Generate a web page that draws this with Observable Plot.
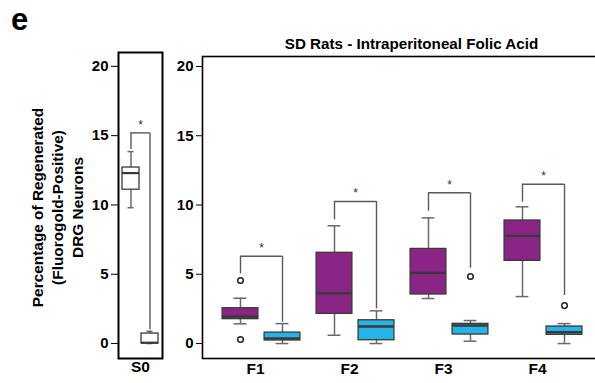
<!DOCTYPE html>
<html><head><meta charset="utf-8">
<script src="https://cdn.jsdelivr.net/npm/d3@7"></script>
<script src="https://cdn.jsdelivr.net/npm/@observablehq/plot@0.6"></script>
<style>
body{margin:0;overflow:hidden;background:#fff;font-family:"Liberation Sans",Arial,sans-serif;}
#wrap{position:relative;width:595px;height:383px;overflow:hidden;}
#left{position:absolute;left:0;top:0;width:170px;}
#right{position:absolute;left:150px;top:0;width:452px;}
#panel{position:absolute;left:11px;top:3px;font-size:31px;font-weight:bold;line-height:1.1;}
svg{overflow:visible;max-width:none !important;}
</style></head>
<body><div id="wrap"><div id="panel">e</div><div id="left"></div><div id="right"></div></div>
<script>
// ---- data ----
const yLabel = "Percentage of Regenerated\n(Fluorogold-Positive)\nDRG Neurons";
const title = "SD Rats - Intraperitoneal Folic Acid";
const yTicks = [0, 5, 10, 15, 20];

// S0 panel (two white boxes)
const s0Keys = ["S0-a", "S0-b"];
const s0Lo  = [9.8, 0.0];
const s0Q1  = [11.1, 0.0];
const s0Med = [12.3, 0.06];
const s0Q3  = [12.7, 0.72];
const s0Hi  = [13.85, 0.88];
const s0BracketTop = [15.2];
const s0BracketLeft = [14.0];
const s0BracketRight = [1.0];

// F panel
const groups = ["F1", "F2", "F3", "F4"];
const faLo  = [1.42, 0.6, 3.25, 3.39];
const faQ1  = [1.76, 2.14, 3.54, 5.97];
const faMed = [1.95, 3.63, 5.1, 7.77];
const faQ3  = [2.55, 6.55, 6.83, 8.88];
const faHi  = [3.27, 8.5, 9.07, 9.87];
const faOutG = ["F1", "F1"];
const faOutV = [4.55, 0.29];
const ctLo  = [0.0, 0.0, 0.17, 0.0];
const ctQ1  = [0.22, 0.24, 0.65, 0.63];
const ctMed = [0.36, 1.23, 1.3, 0.82];
const ctQ3  = [0.79, 1.68, 1.42, 1.23];
const ctHi  = [1.44, 2.36, 1.66, 1.44];
const ctOutG = ["F3", "F4"];
const ctOutV = [4.84, 2.74];
const brTop   = [6.3, 10.25, 10.88, 11.5];
const brLeft  = [5.03, 8.93, 9.55, 10.2];
const brRight = [1.54, 2.5, 5.44, 3.47];

// ---- styles ----
const purple = "#8a2585", blue = "#26b3e6";
const boxStroke = "#3a3a3a", whisk = "#6a6a6a", brack = "#5a5a5a";
const font = "'Liberation Sans', Arial, sans-serif";

// ---- left panel ----
const L = {width: 170, height: 383, ml: 118, mr: 8, mt: 52, mb: 25, pi: 0.105, po: 0.21};
const lStep = (L.width - L.ml - L.mr) / (2 - L.pi + 2 * L.po);
const lBw = lStep * (1 - L.pi);
const s0 = s0Keys.map((k, i) => ({k, lo: s0Lo[i], q1: s0Q1[i], med: s0Med[i], q3: s0Q3[i], hi: s0Hi[i]}));
const s0Br = s0BracketTop.map((t, i) => ({t, l: s0BracketLeft[i], r: s0BracketRight[i]}));

const left = Plot.plot({
  width: L.width, height: L.height,
  marginLeft: L.ml, marginRight: L.mr, marginTop: L.mt, marginBottom: L.mb,
  style: {fontFamily: font, fontSize: "15px", fontWeight: "bold", color: "black", background: "transparent"},
  x: {type: "band", domain: s0Keys, paddingInner: L.pi, paddingOuter: L.po, axis: null},
  y: {domain: [-1.08, 21], ticks: yTicks, tickSize: 7, tickPadding: 3, label: null},
  marks: [
    Plot.ruleX(s0, {x: "k", y1: "lo", y2: "hi", stroke: whisk, strokeWidth: 1.5}),
    Plot.tickY(s0, {x: "k", y: "hi", stroke: whisk, strokeWidth: 1.5, inset: (lBw - 6) / 2}),
    Plot.tickY(s0, {x: "k", y: "lo", stroke: whisk, strokeWidth: 1.5, inset: (lBw - 6) / 2}),
    Plot.barY(s0, {x: "k", y1: "q1", y2: "q3", fill: "white", stroke: boxStroke, strokeWidth: 1.3}),
    Plot.tickY(s0, {x: "k", y: "med", stroke: boxStroke, strokeWidth: 2.2}),
    Plot.ruleY(s0Br, {y: "t", x1: () => s0Keys[0], x2: () => s0Keys[1], insetLeft: lBw / 2, insetRight: lBw / 2, stroke: brack, strokeWidth: 1.4}),
    Plot.ruleX(s0Br, {x: () => s0Keys[0], y1: "l", y2: "t", stroke: brack, strokeWidth: 1.4}),
    Plot.ruleX(s0Br, {x: () => s0Keys[1], y1: "r", y2: "t", stroke: brack, strokeWidth: 1.4}),
    Plot.text(s0Br, {y: "t", text: () => "*", frameAnchor: "middle", dy: -8, fontSize: 12, fontWeight: "normal", fill: "#333"}),
    Plot.frame({stroke: "black", strokeWidth: 2}),
    Plot.text([yLabel], {frameAnchor: "left", textAnchor: "middle", rotate: -90, dx: -62, dy: 2, fontSize: 15.4, fontWeight: "bold", lineHeight: 1.28, fill: "black"}),
    Plot.text(["S0"], {frameAnchor: "bottom", dy: 13, fontSize: 15.5, fontWeight: "bold", fill: "black"})
  ]
});
document.getElementById("left").appendChild(left);

// ---- right panel ----
const R = {width: 452, height: 383, ml: 52, mr: 0, mt: 56, mb: 25, po: 0.124};
const rStep = (R.width - R.ml - R.mr) / (groups.length + 2 * R.po);
const off = 21, boxW = 36, capW = 13;
const fa = groups.map((g, i) => ({g, lo: faLo[i], q1: faQ1[i], med: faMed[i], q3: faQ3[i], hi: faHi[i]}));
const ct = groups.map((g, i) => ({g, lo: ctLo[i], q1: ctQ1[i], med: ctMed[i], q3: ctQ3[i], hi: ctHi[i]}));
const faOut = faOutG.map((g, i) => ({g, v: faOutV[i]}));
const ctOut = ctOutG.map((g, i) => ({g, v: ctOutV[i]}));
const br = groups.map((g, i) => ({g, t: brTop[i], l: brLeft[i], r: brRight[i]}));

function boxMarks(data, outs, fill, dx) {
  const bi = (rStep - boxW) / 2, ci = (rStep - capW) / 2;
  return [
    Plot.ruleX(data, {x: "g", y1: "lo", y2: "hi", dx, stroke: whisk, strokeWidth: 1.5}),
    Plot.tickY(data, {x: "g", y: "hi", dx, stroke: whisk, strokeWidth: 1.5, insetLeft: ci, insetRight: ci}),
    Plot.tickY(data, {x: "g", y: "lo", dx, stroke: whisk, strokeWidth: 1.5, insetLeft: ci, insetRight: ci}),
    Plot.barY(data, {x: "g", y1: "q1", y2: "q3", dx, fill, stroke: boxStroke, strokeWidth: 1.3, insetLeft: bi, insetRight: bi}),
    Plot.tickY(data, {x: "g", y: "med", dx, stroke: boxStroke, strokeWidth: 2.4, insetLeft: bi, insetRight: bi}),
    Plot.dot(outs, {x: "g", y: "v", dx, r: 2.8, fill: "white", stroke: "#222", strokeWidth: 1.5})
  ];
}

const right = Plot.plot({
  width: R.width, height: R.height,
  marginLeft: R.ml, marginRight: R.mr, marginTop: R.mt, marginBottom: R.mb,
  style: {fontFamily: font, fontSize: "15px", fontWeight: "bold", color: "black", background: "transparent"},
  x: {type: "band", domain: groups, paddingInner: 0, paddingOuter: R.po, axis: null},
  y: {domain: [-1.08, 20.72], ticks: yTicks, tickSize: 6, tickPadding: 3, label: null},
  marks: [
    ...boxMarks(fa, faOut, purple, -off),
    ...boxMarks(ct, ctOut, blue, off),
    Plot.ruleY(br, {y: "t", x1: "g", x2: "g", insetLeft: rStep / 2 - off, insetRight: rStep / 2 - off, stroke: brack, strokeWidth: 1.4}),
    Plot.ruleX(br, {x: "g", y1: "l", y2: "t", dx: -off, stroke: brack, strokeWidth: 1.4}),
    Plot.ruleX(br, {x: "g", y1: "r", y2: "t", dx: off, stroke: brack, strokeWidth: 1.4}),
    Plot.text(br, {x: "g", y: "t", text: () => "*", dy: -8, fontSize: 12, fontWeight: "normal", fill: "#333"}),
    Plot.frame({stroke: "black", strokeWidth: 1.6}),
    Plot.text(groups, {x: d => d, text: d => d, frameAnchor: "bottom", dy: 15, dx: -6, fontSize: 15.5, fontWeight: "bold", fill: "black"}),
    Plot.text([title], {frameAnchor: "top", dy: -18, dx: 9, fontSize: 15.2, fontWeight: "bold", fill: "black"})
  ]
});
document.getElementById("right").appendChild(right);
</script>
</body></html>
